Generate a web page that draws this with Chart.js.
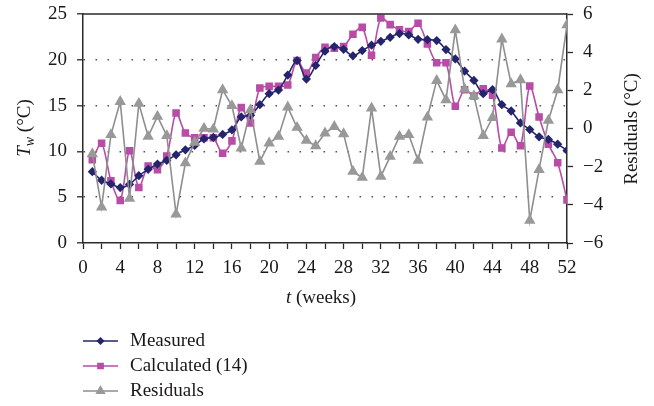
<!DOCTYPE html>
<html>
<head>
<meta charset="utf-8">
<script src="https://cdn.jsdelivr.net/npm/chart.js@4/dist/chart.umd.min.js"></script>
<style>
  html, body { margin: 0; padding: 0; background: #fff; }
</style>
</head>
<body>
<canvas id="chart" width="654" height="406"></canvas>
<script>
// weeks 1..52
var weeks = [1,2,3,4,5,6,7,8,9,10,11,12,13,14,15,16,17,18,19,20,21,22,23,24,25,26,
             27,28,29,30,31,32,33,34,35,36,37,38,39,40,41,42,43,44,45,46,47,48,49,50,51,52];

var measured = [7.78, 6.85, 6.45, 6.05, 6.4, 7.35, 8.04, 8.62, 9.02, 9.63, 10.17, 10.65, 11.37,
                11.52, 11.85, 12.35, 13.76, 13.95, 15.1, 16.3, 16.7, 18.33, 19.92, 17.9, 19.38, 20.94,
                21.45, 21.15, 20.43, 21.01, 21.59, 22.02, 22.46, 22.87, 22.72, 22.24, 22.2, 22.1, 21.12,
                20.1, 18.76, 17.75, 16.3, 16.74, 15.1, 14.41, 13.11, 12.39, 11.59, 11.3, 10.79, 10.1];

var calculated = [9.09, 10.9, 6.8, 4.63, 10.07, 6.05, 8.4, 8.0, 9.49, 14.2, 12.0, 11.48, 11.48,
                  11.48, 9.8, 11.15, 14.78, 13.11, 16.91, 17.1, 17.1, 17.24, 19.92, 18.55, 20.25, 21.37,
                  21.26, 21.45, 22.78, 23.54, 20.5, 24.57, 23.84, 23.28, 23.08, 23.98, 21.74, 19.67, 19.67,
                  14.92, 16.74, 16.05, 16.85, 16.12, 10.36, 12.1, 10.61, 17.13, 13.76, 10.79, 8.76, 4.71];

var residuals = [-1.33, -4.12, -0.33, 1.41, -3.67, 1.31, -0.42, 0.63, -0.38, -4.49, -1.81, -0.73, 0.0,
                 -0.04, 2.02, 1.19, -1.03, 0.98, -1.73, -0.77, -0.42, 1.12, 0.05, -0.63, -0.91, -0.24,
                 0.1, -0.28, -2.25, -2.57, 1.06, -2.51, -1.47, -0.42, -0.33, -1.68, 0.59, 2.51, 1.5,
                 5.16, 2.06, 1.71, -0.38, 0.57, 4.68, 2.34, 2.55, -4.82, -2.16, 0.42, 2.02, 5.43];

var xTickLabels = [0, 4, 8, 12, 16, 20, 24, 28, 32, 36, 40, 44, 48, 52];
var leftTicks = [0, 5, 10, 15, 20, 25];
var rightTicks = [-6, -4, -2, 0, 2, 4, 6];

var FONT = '"Liberation Serif", "Times New Roman", serif';
var axisColor = '#2a2a2a';
var textColor = '#1a1718';

function pts(vals) {
  return weeks.map(function (w, i) { return { x: w, y: vals[i] }; });
}

// axis titles, top frame line and the legend
var extras = {
  id: 'extras',
  afterDraw: function (chart) {
    var ctx = chart.ctx, a = chart.chartArea;
    ctx.save();
    ctx.strokeStyle = axisColor;
    ctx.lineWidth = 1.5;
    ctx.beginPath();
    ctx.moveTo(a.left, a.top);
    ctx.lineTo(a.right, a.top);
    ctx.stroke();

    ctx.fillStyle = textColor;
    ctx.textBaseline = 'middle';
    ctx.textAlign = 'left';

    function runs(parts, cx, cy) {
      var total = 0;
      parts.forEach(function (p) { ctx.font = p.font; p.w = ctx.measureText(p.t).width; total += p.w; });
      var x = cx - total / 2;
      parts.forEach(function (p) { ctx.font = p.font; ctx.fillText(p.t, x, cy + (p.dy || 0)); x += p.w; });
    }

    // left title
    ctx.save();
    ctx.translate(25, 128);
    ctx.rotate(-Math.PI / 2);
    runs([
      { t: 'T', font: 'italic 19px ' + FONT },
      { t: 'w', font: 'italic 14px ' + FONT, dy: 5 },
      { t: ' (°C)', font: '19px ' + FONT }
    ], 0, 0);
    ctx.restore();

    // right title
    ctx.save();
    ctx.translate(632, 129);
    ctx.rotate(-Math.PI / 2);
    runs([{ t: 'Residuals (°C)', font: '19px ' + FONT }], 0, 0);
    ctx.restore();

    // x title
    runs([
      { t: 't', font: 'italic 19px ' + FONT },
      { t: ' (weeks)', font: '19px ' + FONT }
    ], 321, 298);

    // legend
    var rows = [341, 366, 391];
    chart.data.datasets.forEach(function (ds, i) {
      var y = rows[i];
      ctx.strokeStyle = ds.borderColor;
      ctx.lineWidth = 1.5;
      ctx.beginPath();
      ctx.moveTo(83, y);
      ctx.lineTo(118, y);
      ctx.stroke();
      ctx.fillStyle = ds.pointBackgroundColor;
      ctx.strokeStyle = ds.pointBorderColor;
      Chart.helpers.drawPoint(ctx, {
        pointStyle: ds.pointStyle, rotation: 0,
        radius: ds.pointRadius - 0.5, borderWidth: 1
      }, 100.5, y);
      ctx.fillStyle = textColor;
      ctx.font = '19px ' + FONT;
      ctx.textBaseline = 'middle';
      ctx.fillText(ds.label, 130, y);
    });
    ctx.restore();
  }
};

function fixY(width) {
  return function (s) { s.width = width; s.paddingTop = 0; s.paddingBottom = 0; };
}

new Chart(document.getElementById('chart'), {
  type: 'line',
  data: {
    datasets: [{
      label: 'Measured',
      data: pts(measured),
      yAxisID: 'y',
      borderColor: '#25256e',
      backgroundColor: '#25256e',
      pointBackgroundColor: '#25256e',
      pointBorderColor: '#25256e',
      pointStyle: 'rectRot',
      pointRadius: 3.5,
      borderWidth: 1.6,
      tension: 0.3,
      order: 1
    }, {
      label: 'Calculated (14)',
      data: pts(calculated),
      yAxisID: 'y',
      borderColor: '#b84ca6',
      backgroundColor: '#b84ca6',
      pointBackgroundColor: '#b84ca6',
      pointBorderColor: '#b84ca6',
      pointStyle: 'rect',
      pointRadius: 4.2,
      borderWidth: 1.6,
      tension: 0.3,
      order: 2
    }, {
      label: 'Residuals',
      data: pts(residuals),
      yAxisID: 'y2',
      borderColor: '#8e8e8e',
      backgroundColor: '#8e8e8e',
      pointBackgroundColor: '#999999',
      pointBorderColor: '#999999',
      pointStyle: 'triangle',
      pointRadius: 5,
      borderWidth: 1.6,
      tension: 0,
      order: 0
    }]
  },
  options: {
    responsive: false,
    devicePixelRatio: 1,
    animation: false,
    layout: { padding: { left: 0, right: 0, top: 14, bottom: 123 } },
    plugins: { legend: { display: false }, tooltip: { enabled: false } },
    scales: {
      x: {
        type: 'linear',
        position: 'bottom',
        min: 0, max: 52,
        afterFit: function (s) { s.height = 40; s.paddingLeft = 0; s.paddingRight = 0; },
        ticks: {
          stepSize: 2, autoSkip: false, maxRotation: 0, padding: 8,
          color: textColor, font: { family: FONT, size: 19 },
          callback: function (v) { return xTickLabels.indexOf(v) >= 0 ? String(v) : ''; }
        },
        grid: { drawOnChartArea: false, tickLength: 6, color: axisColor, tickWidth: 1.3 },
        border: { color: axisColor, width: 1.5 }
      },
      y: {
        position: 'left',
        min: 0, max: 25,
        afterFit: fixY(83),
        afterBuildTicks: function (s) { s.ticks = leftTicks.map(function (v) { return { value: v }; }); },
        ticks: {
          padding: 10, color: textColor, font: { family: FONT, size: 19 }
        },
        grid: {
          tickLength: 6, tickWidth: 1.3, tickColor: axisColor, lineWidth: 1.6,
          color: function (c) {
            var v = c.tick ? c.tick.value : null;
            return (v === 0 || v === 25) ? 'rgba(0,0,0,0)' : '#555555';
          }
        },
        border: { color: axisColor, width: 1.5, dash: [1.6, 10.4] }
      },
      y2: {
        position: 'right',
        min: -6, max: 6,
        afterFit: fixY(87),
        afterBuildTicks: function (s) { s.ticks = rightTicks.map(function (v) { return { value: v }; }); },
        ticks: {
          padding: 10, color: textColor, font: { family: FONT, size: 19 },
          callback: function (v) { return String(v).replace('-', '\u2212'); }
        },
        grid: { drawOnChartArea: false, tickLength: 6, tickWidth: 1.3, color: axisColor },
        border: { color: axisColor, width: 1.5 }
      }
    }
  },
  plugins: [extras]
});
</script>
</body>
</html>
